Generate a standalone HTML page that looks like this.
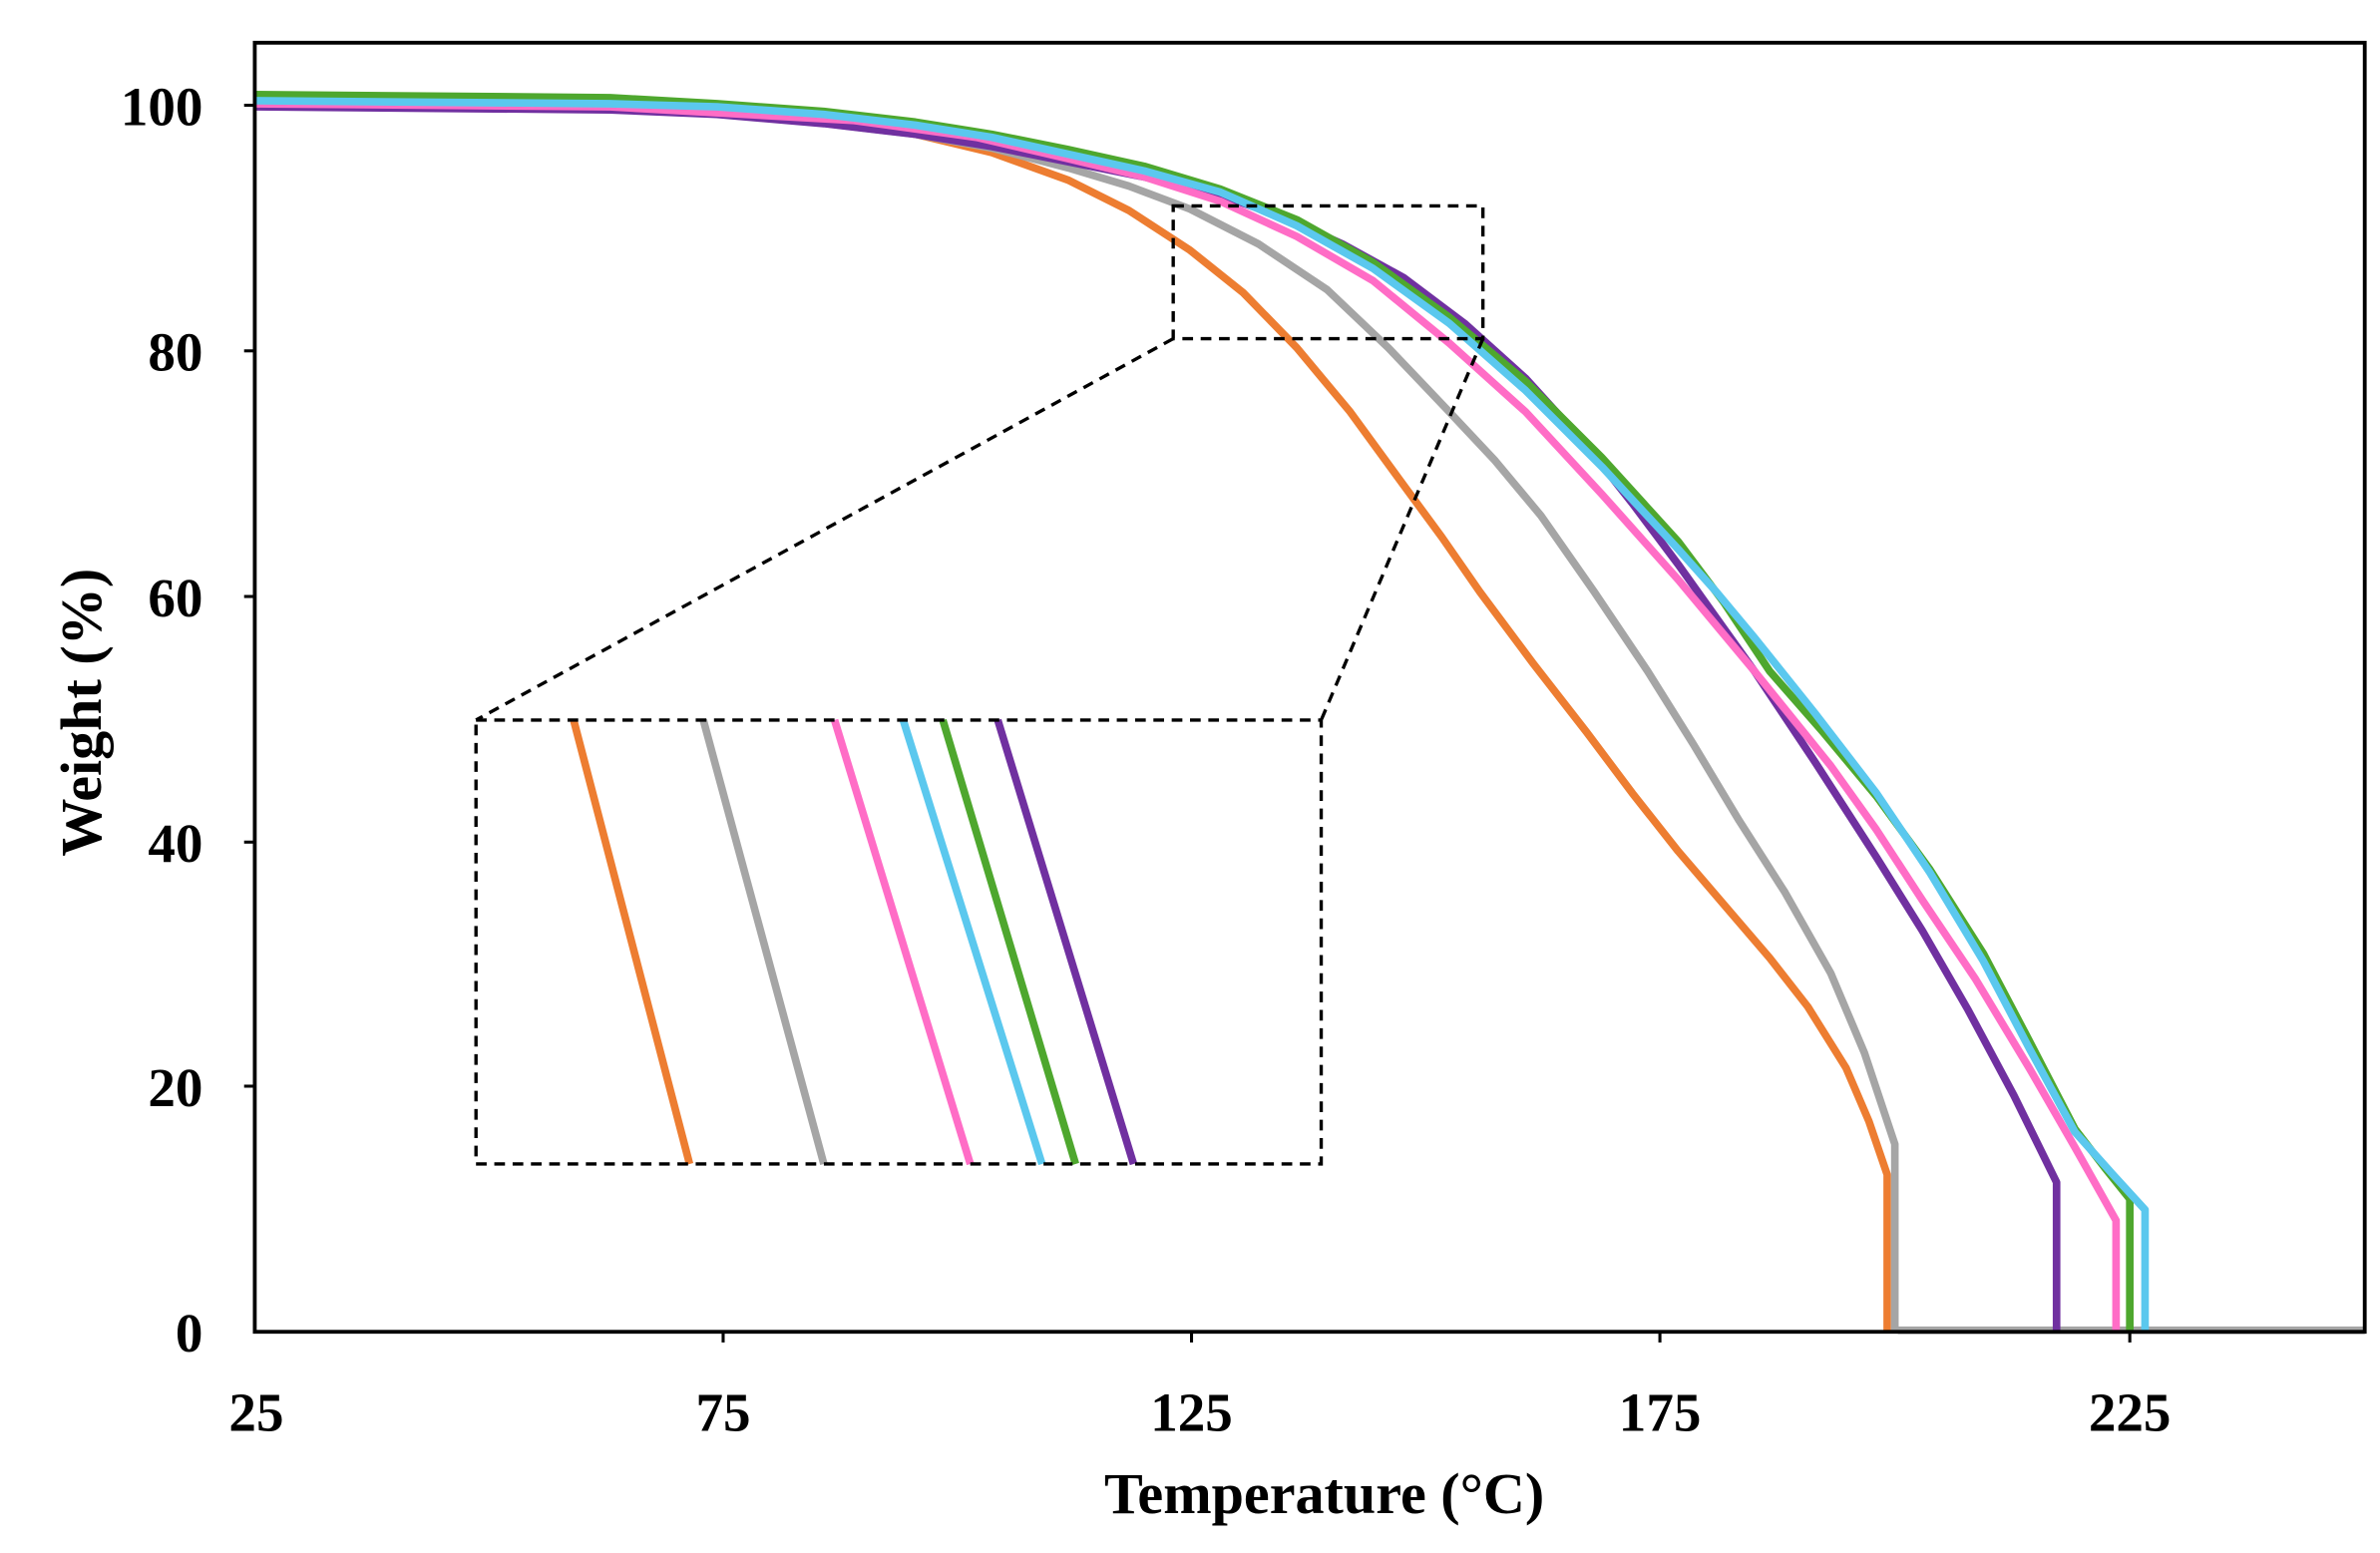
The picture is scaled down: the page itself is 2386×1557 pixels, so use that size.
<!DOCTYPE html>
<html><head><style>html,body{margin:0;padding:0;background:#fff;}svg{display:block}</style></head>
<body>
<svg width="2386" height="1557" viewBox="0 0 1560 1018" preserveAspectRatio="none" xmlns="http://www.w3.org/2000/svg">
<rect width="1560" height="1018" fill="#fff"/>
<g fill="none" stroke-width="5" stroke-linejoin="round">
<polyline stroke="#A5A5A5" points="1244,872 1550,872"/>
<polyline stroke="#ED7D31" points="167,68 400,71 470,74 540,79 600,88 650,100 700,118 740,138 780,164 815,192 850,228 885,270 920,318 945,352 970,388 1005,435 1040,480 1070,520 1100,558 1130,593 1160,628 1185,660 1210,700 1225,735 1237,770 1237,873"/>
<polyline stroke="#A5A5A5" points="167,68 400,71 500,76 600,88 650,97 700,110 740,122 780,137 825,160 870,190 910,228 950,270 980,302 1010,338 1045,388 1080,440 1110,488 1140,538 1170,585 1200,638 1222,690 1242,750 1242,872"/>
<polyline stroke="#7030A0" points="167,70 400,72 470,75 540,81 600,88 650,96 700,106 750,116 800,128 840,142 880,160 920,182 960,212 1000,248 1040,292 1070,330 1100,370 1125,405 1150,440 1190,500 1230,562 1260,610 1290,662 1320,718 1348,775 1348,872"/>
<polyline stroke="#FF6DC6" points="167,68 400,70 560,79 640,90 700,104 750,116 800,132 850,155 900,184 950,225 1000,270 1050,324 1100,380 1150,440 1200,502 1230,544 1260,590 1295,642 1330,700 1360,752 1387,800 1387,872"/>
<polyline stroke="#4EA72E" points="167,62 400,64 470,68 540,73 600,80 650,88 700,98 750,109 800,124 850,144 900,172 950,208 1000,250 1050,300 1100,355 1130,395 1160,440 1195,480 1230,522 1265,570 1300,625 1330,682 1360,740 1380,766 1396,786 1396,872"/>
<polyline stroke="#5BC8EE" points="167,66 400,68 470,70 540,75 600,82 650,90 700,101 750,112 800,126 850,148 900,176 950,212 1000,256 1050,306 1100,360 1125,388 1150,418 1190,468 1230,520 1265,572 1300,630 1330,687 1360,742 1385,770 1406,793 1406,872"/>
<line stroke="#ED7D31" x1="376" y1="472" x2="452" y2="763"/>
<line stroke="#A5A5A5" x1="461" y1="472" x2="540" y2="763"/>
<line stroke="#FF6DC6" x1="547" y1="472" x2="636" y2="763"/>
<line stroke="#5BC8EE" x1="592" y1="472" x2="683" y2="763"/>
<line stroke="#4EA72E" x1="618" y1="472" x2="705" y2="763"/>
<line stroke="#7030A0" x1="654" y1="472" x2="743" y2="763"/>
</g>
<g fill="none" stroke="#000" stroke-width="2.2" stroke-dasharray="7,5">
<rect x="769" y="135" width="203" height="87"/>
<rect x="312" y="472" width="554" height="291"/>
<line x1="769" y1="222" x2="312" y2="472"/>
<line x1="972" y1="222" x2="866" y2="472"/>
</g>
<rect x="167" y="28" width="1383" height="845" fill="none" stroke="#000" stroke-width="2.5"/>
<g stroke="#000" stroke-width="2">
<line x1="160" y1="69" x2="167" y2="69"/><line x1="160" y1="230" x2="167" y2="230"/><line x1="160" y1="391" x2="167" y2="391"/><line x1="160" y1="552" x2="167" y2="552"/><line x1="160" y1="712" x2="167" y2="712"/>
<line x1="474" y1="873" x2="474" y2="880"/><line x1="781" y1="873" x2="781" y2="880"/><line x1="1088" y1="873" x2="1088" y2="880"/><line x1="1396" y1="873" x2="1396" y2="880"/>
</g>
<g font-family="Liberation Serif, serif" font-weight="bold" font-size="36" fill="#000">
<g text-anchor="end">
<text x="133" y="82">100</text><text x="133" y="243">80</text><text x="133" y="404">60</text><text x="133" y="565">40</text><text x="133" y="725">20</text><text x="133" y="886">0</text>
</g>
<g text-anchor="middle">
<text x="168" y="938">25</text><text x="474" y="938">75</text><text x="781" y="938">125</text><text x="1088" y="938">175</text><text x="1396" y="938">225</text>
<text x="868" y="992" font-size="38">Temperature (°C)</text>
<text transform="translate(66,467) rotate(-90)" font-size="38">Weight (%)</text>
</g>
</g>
</svg>
</body></html>
